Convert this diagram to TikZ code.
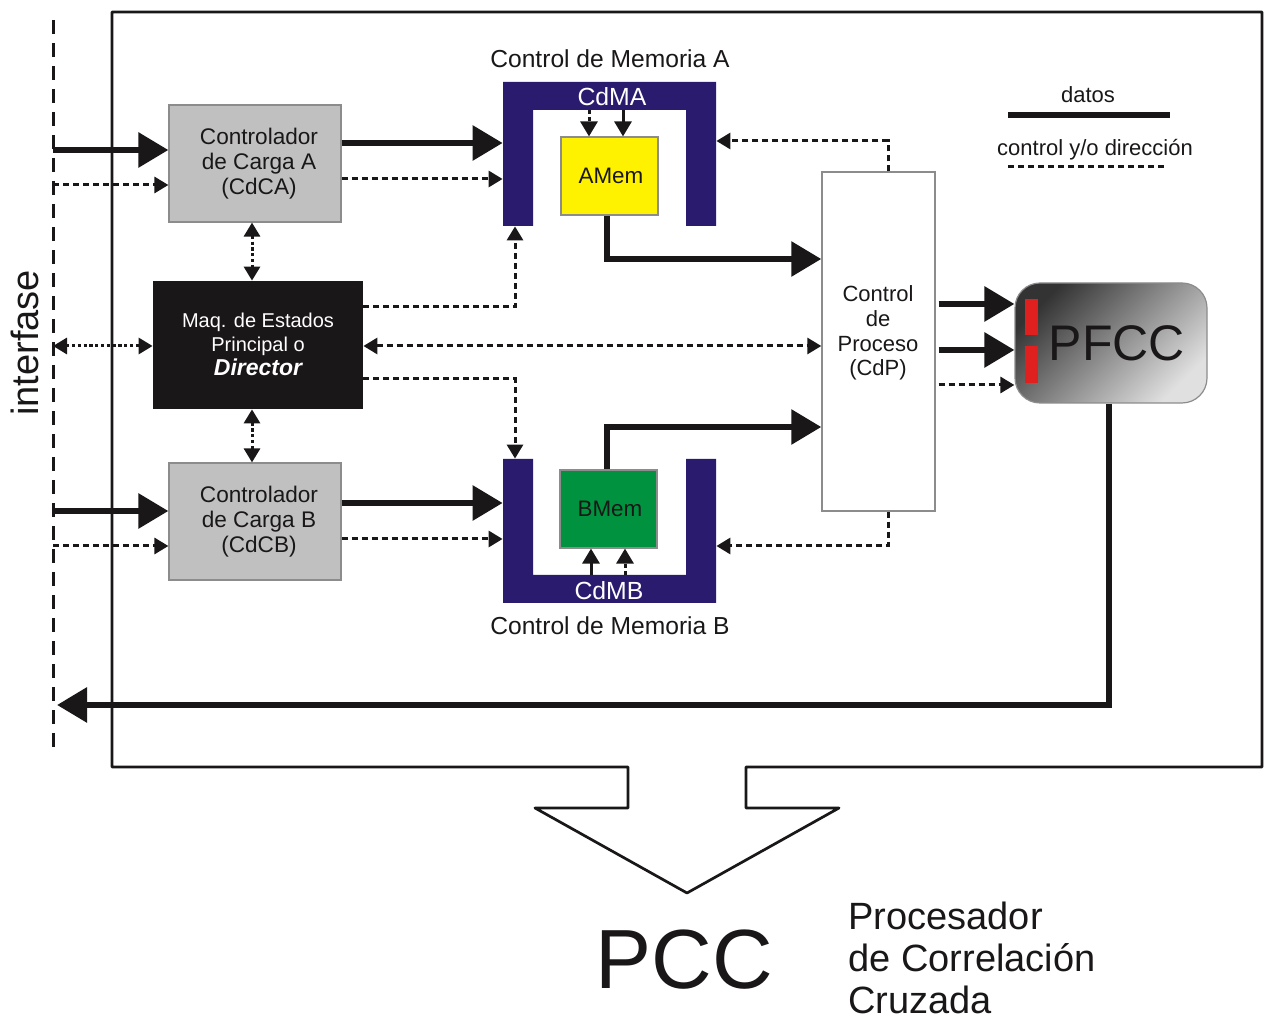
\documentclass[tikz,border=0pt]{standalone}
\usepackage{fontspec}
\setmainfont{Liberation Sans}
\usetikzlibrary{arrows.meta,fit,calc}
\definecolor{memblue}{HTML}{2A1B6E}
\definecolor{boxgray}{HTML}{C0C0C0}
\definecolor{edgegray}{HTML}{8C8C8C}
\definecolor{amemyellow}{HTML}{FFF200}
\definecolor{bmemgreen}{HTML}{00923F}
\definecolor{inkblack}{HTML}{1A1718}
\definecolor{pfccred}{HTML}{E0201E}
\begin{document}
\begin{tikzpicture}[x=0.5pt,y=-0.5pt,
  every node/.style={inner sep=0pt, text=inkblack},
  txt/.style={font=\fontsize{11.3}{12.5}\selectfont, align=center},
  graybox/.style={fill=boxgray, draw=edgegray, line width=0.6pt},
  data/.style={draw=inkblack, line width=3pt, -{Triangle[length=15pt,width=17pt]}},
  ctrl/.style={draw=inkblack, line width=1.5pt, dash pattern=on 3pt off 2pt, -{Triangle[length=7pt,width=8pt]}},
  ctrlboth/.style={ctrl, {Triangle[length=7pt,width=8pt]}-{Triangle[length=7pt,width=8pt]}},
  dotboth/.style={draw=inkblack, line width=1.5pt, dash pattern=on 1.6pt off 1.3pt, {Triangle[length=7pt,width=8pt]}-{Triangle[length=7pt,width=8pt]}},
  inarrow/.style={draw=inkblack, line width=1.5pt, -{Triangle[length=7.5pt,width=8.5pt]}},
  indash/.style={inarrow, dash pattern=on 2pt off 1.5pt},
]
\useasboundingbox (0,0) rectangle (1264,1020);
\fill[white] (0,0) rectangle (1264,1020);

% outer frame with the output arrow
\draw[inkblack, line width=1.35pt, line join=round]
  (628,767) -- (112,767) -- (112,12) -- (1262,12) -- (1262,767) -- (746,767)
  -- (746,808) -- (839,808) -- (687,893) -- (535,808) -- (628,808) -- cycle;

% interface line
\coordinate (ifaceTop) at (53,20);
\coordinate (ifaceBot) at (53,750);
\draw[inkblack, line width=1.5pt, dash pattern=on 7pt off 4.5pt] (ifaceTop) -- (ifaceBot);
\node[rotate=90, font=\fontsize{19}{19}\selectfont] (ifacelabel) at (25,343) {interfase};

% load controllers and director
\node[graybox, fit={(169,105) (341,222)}] (cdca) {};
\node[txt] (cdcatext) at (259,164) {Controlador\\de Carga A\\(CdCA)};
\node[graybox, fit={(169,463) (341,580)}] (cdcb) {};
\node[txt] (cdcbtext) at (259,522) {Controlador\\de Carga B\\(CdCB)};
\node[fill=inkblack, fit={(153,281) (363,409)}] (director) {};
\node[align=center, text=white, font=\fontsize{10}{12}\selectfont] (directortext) at (258,344)
  {Maq. de Estados\\Principal o\\{\fontsize{11.5}{12}\selectfont\bfseries\itshape Director}};

% memory controller A
\node[fit={(503,82) (716,226)}] (cdma) {};
\fill[memblue] (503,226) -- (503,82) -- (716,82) -- (716,226) -- (686,226) -- (686,110) -- (533,110) -- (533,226) -- cycle;
\node[text=white, font=\fontsize{12.4}{12.4}\selectfont] (cdmalabel) at (612,97) {CdMA};
\node[font=\fontsize{12.3}{12.3}\selectfont] (cdmatitle) at (610,59) {Control de Memoria A};
\node[fill=amemyellow, draw=edgegray, line width=0.6pt, fit={(561,137) (658,215)}] (amem) {};
\node[font=\fontsize{11.2}{11.2}\selectfont] (amemtext) at (611,176) {AMem};

% memory controller B
\node[fit={(503,459) (716,603)}] (cdmb) {};
\fill[memblue] (503,459) -- (503,603) -- (716,603) -- (716,459) -- (686,459) -- (686,575) -- (533,575) -- (533,459) -- cycle;
\node[text=white, font=\fontsize{12.4}{12.4}\selectfont] (cdmblabel) at (609,591) {CdMB};
\node[font=\fontsize{12.3}{12.3}\selectfont] (cdmbtitle) at (610,626) {Control de Memoria B};
\node[fill=bmemgreen, draw=edgegray, line width=0.6pt, fit={(560,470) (657,548)}] (bmem) {};
\node[font=\fontsize{11.2}{11.2}\selectfont] (bmemtext) at (610,509) {BMem};

% process control
\node[fill=white, draw=edgegray, line width=0.7pt, fit={(822,172) (935,511)}] (cdp) {};
\node[align=center, font=\fontsize{11}{12.4}\selectfont] (cdptext) at (878,333) {Control\\de\\Proceso\\(CdP)};

% PFCC block
\node[draw=edgegray, line width=0.6pt, rounded corners=12.5pt, shading=axis,
      top color=black!80, bottom color=black!12, shading angle=45,
      fit={(1015,283) (1207,403)}] (pfcc) {};
\fill[pfccred] (1025,299) rectangle (1038,335);
\fill[pfccred] (1025,346) rectangle (1038,383);
\node[font=\fontsize{25}{25}\selectfont] (pfcctext) at (1117,343) {PFCC};

% legend
\node[font=\fontsize{11}{11}\selectfont] (legdata) at (1088,95) {datos};
\draw[inkblack, line width=3pt] (1008,115) -- (1170,115);
\node[font=\fontsize{11}{11}\selectfont] (legctrl) at (1095,150) {control y/o dirección};
\draw[inkblack, line width=1.5pt, dash pattern=on 3pt off 2pt] (1008,167) -- (1167,167);

% bottom caption
\node[font=\fontsize{42}{42}\selectfont] (pcc) at (684,960) {PCC};
\node[anchor=west, align=left, font=\fontsize{19}{21.2}\selectfont] (pccname) at (848,958)
  {Procesador\\de Correlación\\Cruzada};

% interface to load controllers
\draw[data] (ifaceTop |- 0,150) -- (cdca.west |- 0,150);
\draw[ctrl] (ifaceTop |- 0,185) -- (cdca.west |- 0,185);
\draw[data] (ifaceTop |- 0,511) -- (cdcb.west |- 0,511);
\draw[ctrl] (ifaceTop |- 0,546) -- (cdcb.west |- 0,546);

% load controllers to memory controllers
\draw[data] (cdca.east |- 0,143) -- (cdma.west |- 0,143);
\draw[ctrl] (cdca.east |- 0,179) -- (cdma.west |- 0,179);
\draw[data] (cdcb.east |- 0,503) -- (cdmb.west |- 0,503);
\draw[ctrl] (cdcb.east |- 0,539) -- (cdmb.west |- 0,539);

% director links
\draw[dotboth] (252,0 |- cdca.south) -- (252,0 |- director.north);
\draw[dotboth] (252,0 |- director.south) -- (252,0 |- cdcb.north);
\draw[dotboth] (ifaceTop |- 0,346) -- (director.west |- 0,346);
\draw[ctrl] (director.east |- 0,307) -| (515,0 |- cdma.south);
\draw[ctrl] (director.east |- 0,379) -| (515,0 |- cdmb.north);
\draw[ctrlboth] (director.east |- 0,346) -- (cdp.west |- 0,346);

% memories to process control
\draw[data] (607,0 |- amem.south) |- (cdp.west |- 0,259);
\draw[data] (607,0 |- bmem.north) |- (cdp.west |- 0,427);
\draw[ctrl] (888,0 |- cdp.north) |- (cdma.east |- 0,141);
\draw[ctrl] (888,0 |- cdp.south) |- (cdmb.east |- 0,546);

% inside the memory controllers
\coordinate (cdmaIn) at (0,110);
\coordinate (cdmbIn) at (0,575);
\draw[indash] (589,0 |- cdmaIn) -- (589,0 |- amem.north);
\draw[inarrow] (623,0 |- cdmaIn) -- (623,0 |- amem.north);
\draw[inarrow] (591,0 |- cdmbIn) -- (591,0 |- bmem.south);
\draw[indash] (625,0 |- cdmbIn) -- (625,0 |- bmem.south);

% process control to PFCC
\draw[data] ([xshift=1.5pt]cdp.east |- 0,304) -- (pfcc.west |- 0,304);
\draw[data] ([xshift=1.5pt]cdp.east |- 0,350) -- (pfcc.west |- 0,350);
\draw[ctrl] ([xshift=1.5pt]cdp.east |- 0,385) -- (pfcc.west |- 0,385);

% result back to the interface
\draw[data] (1109,0 |- pfcc.south) |- ([xshift=2pt]ifaceTop |- 0,705);
\end{tikzpicture}
\end{document}
